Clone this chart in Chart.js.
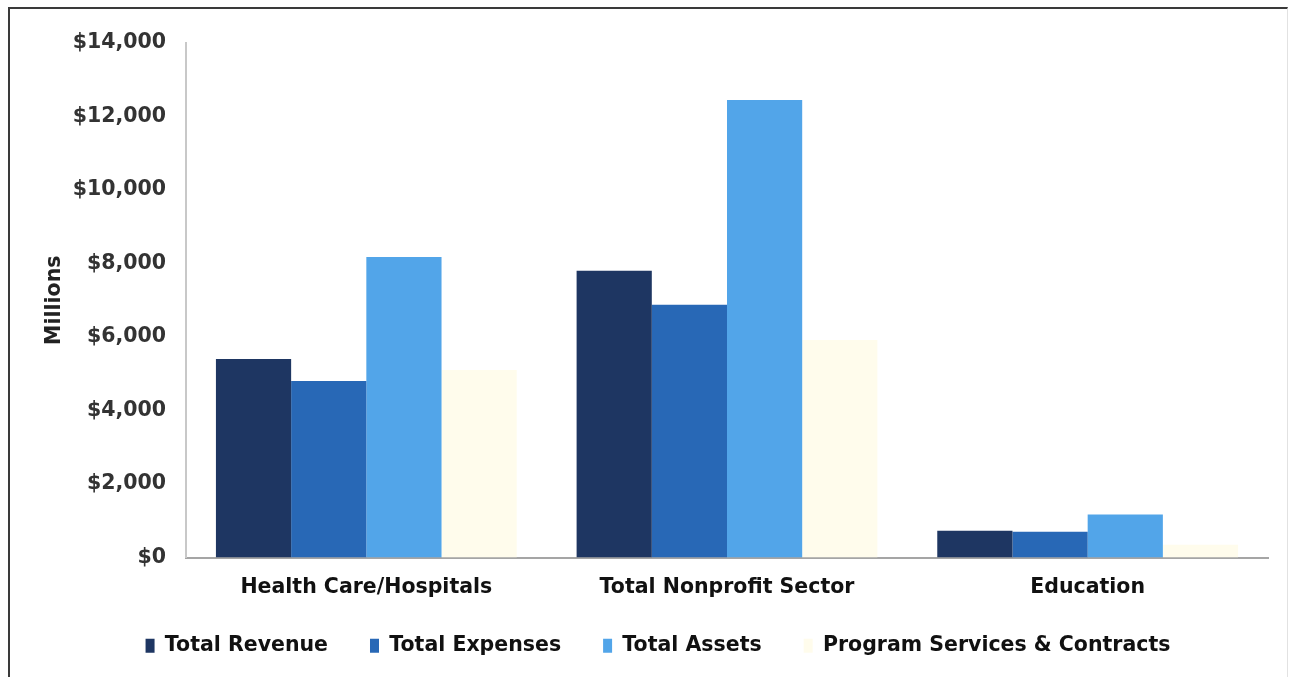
<!DOCTYPE html>
<html>
<head>
<meta charset="utf-8">
<script src="https://cdn.jsdelivr.net/npm/chart.js@4/dist/chart.umd.min.js"></script>
<style>
  html, body { margin: 0; padding: 0; background: #fff; }
  #wrap { position: relative; width: 1291px; height: 677px; overflow: hidden; }
  #frame {
    position: absolute; left: 8px; top: 7px; width: 1277px; height: 700px;
    border-top: 2px solid #3a3a3a; border-left: 2px solid #3a3a3a; border-right: 1px solid #e2e2e2;
  }
  #myChart { position: absolute; left: 0; top: 0; }
</style>
</head>
<body>
<div id="wrap">
  <div id="frame"></div>
  <canvas id="myChart" width="1291" height="677"></canvas>
</div>
<script>
const categories = ['Health Care/Hospitals', 'Total Nonprofit Sector', 'Education'];
const seriesNames = ['Total Revenue', 'Total Expenses', 'Total Assets', 'Program Services & Contracts'];
const totalRevenue = [5400, 7800, 730];
const totalExpenses = [4800, 6880, 700];
const totalAssets = [8180, 12450, 1170];
const programServices = [5100, 5920, 350];
const yTicks = [0, 2000, 4000, 6000, 8000, 10000, 12000, 14000];

const colors = ['#1e3662', '#2868b6', '#52a5e9', '#fffcec'];
const font = 'DejaVu Sans';
const fontSize = 20.5;

// nudge the legend: a little right of centre and closer to the axis labels
const shiftLegend = {
  id: 'shiftLegend',
  afterLayout(chart) {
    const lg = chart.legend;
    lg.left += 24;
    lg.right += 24;
    lg.top -= 8;
    lg.bottom -= 8;
  }
};

const ctx = document.getElementById('myChart');
new Chart(ctx, {
  type: 'bar',
  data: {
    labels: categories,
    datasets: [totalRevenue, totalExpenses, totalAssets, programServices].map((d, i) => ({
      label: seriesNames[i],
      data: d,
      backgroundColor: colors[i],
      borderWidth: 0,
      categoryPercentage: 0.834,
      barPercentage: 1.0
    }))
  },
  options: {
    responsive: false,
    animation: false,
    layout: { padding: { left: 0, right: 23, top: 43, bottom: 3 } },
    plugins: {
      legend: {
        position: 'bottom',
        labels: {
          boxWidth: 9,
          boxHeight: 14,
          padding: 42,
          color: '#111',
          font: { family: font, size: fontSize, weight: 'bold' }
        }
      },
      tooltip: { enabled: false }
    },
    scales: {
      x: {
        grid: { display: false, drawTicks: false },
        border: { display: true, color: '#a5a5a5', width: 2 },
        ticks: {
          padding: 18,
          color: '#111',
          font: { family: font, size: fontSize, weight: 'bold' }
        },
        afterFit(scale) { scale.height = 44; }
      },
      y: {
        min: 0,
        max: 14000,
        afterBuildTicks(scale) { scale.ticks = yTicks.map(v => ({ value: v })); },
        grid: { display: false, drawTicks: false },
        border: { display: true, color: '#c8c8c8', width: 2 },
        ticks: {
          padding: 20,
          color: '#333',
          font: { family: font, size: fontSize, weight: 'bold' },
          callback: v => '$' + v.toLocaleString('en-US')
        },
        title: {
          display: true,
          text: 'Millions',
          color: '#222',
          padding: { top: 42, bottom: 0 },
          font: { family: font, size: fontSize, weight: 'bold' }
        },
        afterFit(scale) { scale.width = 186; }
      }
    }
  },
  plugins: [shiftLegend]
});
</script>
</body>
</html>
